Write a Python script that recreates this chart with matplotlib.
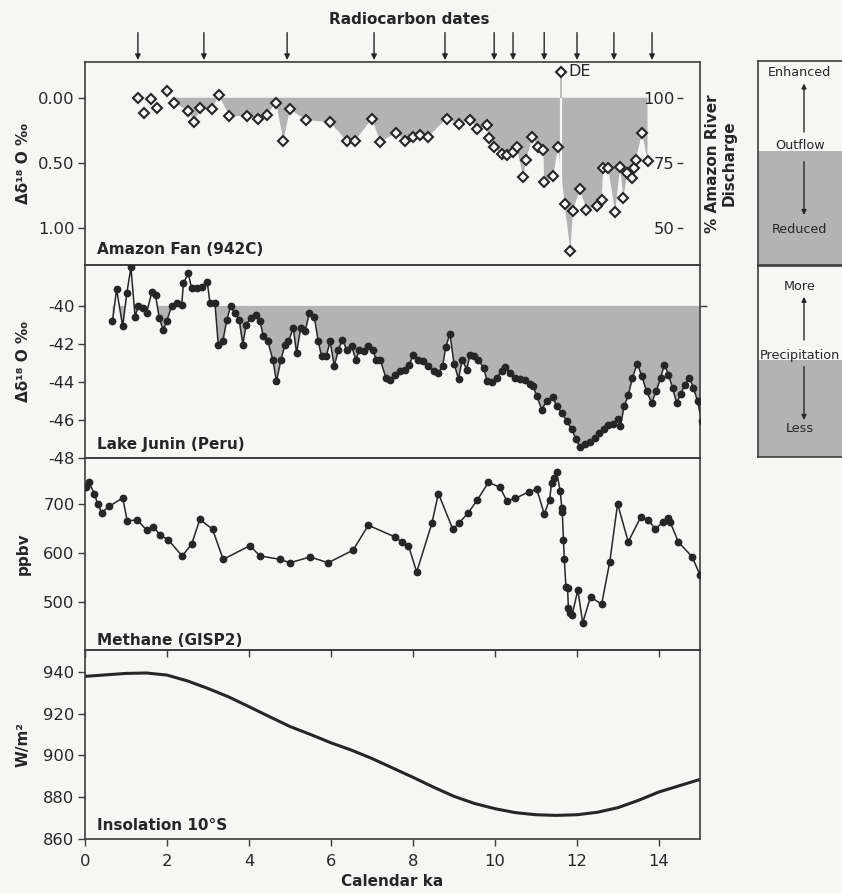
import numpy as np
import matplotlib
matplotlib.use("Agg")
import matplotlib.pyplot as plt

plt.rcParams['font.family'] = ['DejaVu Sans']
plt.rcParams['axes.unicode_minus'] = False

# ---- values ----
radiocarbon_ka = [1.29, 2.90, 4.93, 7.05, 8.78, 9.98, 10.44, 11.20, 12.00, 12.90, 13.83]

amazon_ka = np.array([1.29, 1.45, 1.60, 1.75, 1.99, 2.18, 2.52, 2.67, 2.81, 3.10,
                      3.26, 3.52, 3.96, 4.21, 4.43, 4.66, 4.84, 5.00, 5.39, 5.98,
                      6.38, 6.59, 7.00, 7.20, 7.59, 7.80, 8.00, 8.17, 8.37, 8.82,
                      9.13, 9.39, 9.57, 9.80, 9.86, 9.98, 10.16, 10.30, 10.45, 10.53,
                      10.69, 10.76, 10.91, 11.06, 11.18, 11.20, 11.42, 11.54, 11.61, 11.70,
                      11.84, 11.90, 12.07, 12.23, 12.49, 12.60, 12.64, 12.76, 12.93, 13.05,
                      13.13, 13.23, 13.33, 13.40, 13.43, 13.59, 13.72])
amazon_d18o = np.array([0.00, 0.12, 0.01, 0.08, -0.05, 0.04, 0.10, 0.19, 0.08, 0.09,
                        -0.02, 0.14, 0.14, 0.16, 0.13, 0.04, 0.33, 0.09, 0.17, 0.19,
                        0.33, 0.33, 0.16, 0.34, 0.27, 0.33, 0.30, 0.29, 0.30, 0.16,
                        0.20, 0.17, 0.24, 0.21, 0.31, 0.38, 0.43, 0.44, 0.42, 0.38,
                        0.61, 0.48, 0.30, 0.38, 0.40, 0.65, 0.60, 0.38, -0.20, 0.82,
                        1.18, 0.87, 0.70, 0.86, 0.83, 0.79, 0.54, 0.54, 0.88, 0.53,
                        0.77, 0.58, 0.62, 0.54, 0.48, 0.27, 0.49])
de_ka = 11.61  # the "DE" sample

junin_ka = np.array([0.67, 0.77, 0.92, 1.02, 1.12, 1.22, 1.30, 1.41, 1.50, 1.63,
                     1.72, 1.81, 1.91, 1.99, 2.11, 2.24, 2.36, 2.40, 2.52, 2.60,
                     2.72, 2.85, 2.98, 3.05, 3.17, 3.25, 3.36, 3.46, 3.55, 3.66,
                     3.76, 3.85, 3.93, 4.04, 4.16, 4.27, 4.35, 4.46, 4.58, 4.67,
                     4.78, 4.88, 4.96, 5.08, 5.16, 5.26, 5.37, 5.47, 5.59, 5.69,
                     5.77, 5.88, 5.98, 6.08, 6.18, 6.28, 6.38, 6.50, 6.61, 6.69,
                     6.80, 6.91, 7.02, 7.10, 7.20, 7.34, 7.44, 7.56, 7.68, 7.80,
                     7.91, 8.01, 8.13, 8.25, 8.37, 8.50, 8.62, 8.72, 8.80, 8.90,
                     9.00, 9.11, 9.20, 9.31, 9.39, 9.49, 9.59, 9.72, 9.81, 9.92,
                     10.04, 10.16, 10.24, 10.37, 10.49, 10.61, 10.73, 10.85, 10.93, 11.02,
                     11.14, 11.26, 11.41, 11.50, 11.63, 11.75, 11.87, 11.98, 12.07, 12.20,
                     12.32, 12.44, 12.54, 12.66, 12.76, 12.89, 13.01, 13.06, 13.15, 13.25,
                     13.35, 13.47, 13.58, 13.70, 13.82, 13.93, 14.04, 14.13, 14.23, 14.33,
                     14.43, 14.53, 14.63, 14.74, 14.84, 14.94, 15.04])
junin_d18o = np.array([-40.82, -39.13, -41.08, -39.33, -37.97, -40.56, -40.03, -40.12, -40.38, -39.28,
                       -39.42, -40.65, -41.26, -40.82, -40.03, -39.86, -39.95, -38.81, -38.29, -39.07,
                       -39.07, -38.99, -38.73, -39.86, -39.86, -42.04, -41.87, -40.73, -40.03, -40.38,
                       -40.73, -42.04, -40.99, -40.65, -40.47, -40.82, -41.61, -41.87, -42.83, -43.96,
                       -42.83, -42.04, -41.87, -41.17, -42.48, -41.17, -41.34, -40.38, -40.56, -41.87,
                       -42.66, -42.66, -41.87, -43.18, -42.30, -41.78, -42.30, -42.13, -42.83, -42.30,
                       -42.39, -42.13, -42.30, -42.83, -42.83, -43.79, -43.88, -43.61, -43.44, -43.35,
                       -43.09, -42.57, -42.83, -42.91, -43.18, -43.44, -43.53, -43.18, -42.17, -41.47,
                       -43.04, -43.84, -42.83, -43.35, -42.57, -42.66, -42.83, -43.26, -43.96, -44.01,
                       -43.79, -43.44, -43.21, -43.53, -43.79, -43.84, -43.91, -44.09, -44.23, -44.75,
                       -45.45, -45.01, -44.78, -45.27, -45.62, -46.06, -46.50, -47.02, -47.41, -47.28,
                       -47.16, -46.93, -46.71, -46.50, -46.29, -46.19, -45.94, -46.32, -45.27, -44.71,
                       -43.79, -43.04, -43.70, -44.49, -45.10, -44.49, -43.79, -43.09, -43.61, -44.31,
                       -45.10, -44.66, -44.14, -43.79, -44.31, -45.01, -46.06])

methane_ka = np.array([0.02, 0.10, 0.23, 0.31, 0.41, 0.59, 0.92, 1.03, 1.28, 1.50,
                       1.67, 1.83, 2.03, 2.37, 2.60, 2.80, 3.11, 3.37, 4.02, 4.27,
                       4.76, 5.00, 5.49, 5.93, 6.54, 6.91, 7.56, 7.72, 7.89, 8.09,
                       8.46, 8.62, 8.97, 9.13, 9.35, 9.57, 9.84, 10.12, 10.29, 10.49,
                       10.84, 11.02, 11.20, 11.33, 11.38, 11.44, 11.50, 11.59, 11.63, 11.64,
                       11.67, 11.69, 11.73, 11.77, 11.79, 11.84, 11.88, 12.02, 12.14, 12.33,
                       12.60, 12.80, 12.99, 13.25, 13.55, 13.74, 13.91, 14.10, 14.23, 14.27,
                       14.47, 14.81, 15.00])
methane_ppbv = np.array([735, 745, 721, 700, 683, 696, 713, 666, 668, 647,
                         654, 637, 627, 594, 618, 669, 649, 587, 615, 594,
                         587, 580, 592, 580, 606, 657, 633, 623, 615, 561,
                         661, 722, 649, 662, 683, 709, 745, 735, 707, 712,
                         726, 731, 680, 709, 743, 753, 767, 728, 692, 685,
                         627, 587, 531, 528, 487, 476, 473, 524, 457, 510,
                         495, 582, 701, 623, 673, 668, 649, 664, 671, 664,
                         623, 592, 555])

insol_ka = np.arange(0, 15.5, 0.5)
insol_wm2 = np.array([937.8, 938.5, 939.2, 939.4, 938.4, 935.6, 932.0, 928.0, 923.3, 918.5,
                      913.8, 910.0, 906.0, 902.5, 898.5, 894.0, 889.5, 884.8, 880.4, 877.0,
                      874.5, 872.6, 871.6, 871.3, 871.6, 872.8, 875.0, 878.5, 882.5, 885.5,
                      888.5])

# ---- style ----
BG = '#f6f6f4'
INK = '#262626'
FRAME = '#3c3c3c'
GRAY = '#b3b3b3'
TICK_FS = 11.8
LAB_FS = 11

fig = plt.figure(figsize=(8.42, 8.94), dpi=100, facecolor=BG)

W, H = 842.0, 894.0
left, width = 85 / W, 615 / W
panels = [(62, 265), (265, 458), (458, 650), (650, 839)]
axes = []
for top, bot in panels:
    a = fig.add_axes([left, 1 - bot / H, width, (bot - top) / H])
    a.set_facecolor('none')
    a.set_xlim(0, 15)
    for s in a.spines.values():
        s.set_color(FRAME)
        s.set_linewidth(1.2)
    a.tick_params(direction='out', length=5, width=1, colors=FRAME,
                  labelcolor=INK, labelsize=TICK_FS, pad=2.5)
    a.tick_params(axis='x', bottom=False, labelbottom=False)
    axes.append(a)
ax1, ax2, ax3, ax4 = axes


def panel_label(ax, text, y):
    ax.text(0.02, y, text, transform=ax.transAxes, ha='left', va='center',
            fontsize=LAB_FS, fontweight='bold', color=INK)


# ---- Amazon Fan ----
is_de = np.isclose(amazon_ka, de_ka)
keep = (amazon_ka >= 2.1) & ~is_de
ax1.fill_between(amazon_ka[keep], 0, amazon_d18o[keep], where=amazon_d18o[keep] > 0,
                 interpolate=True, color=GRAY, lw=0, zorder=1)
de_val = amazon_d18o[is_de][0]
after_de = amazon_d18o[np.argmax(is_de) + 1]
ax1.vlines(de_ka, de_val, 0, color=GRAY, lw=1.2, zorder=1.5)
ax1.vlines(de_ka, 0, after_de, color=BG, lw=1.6, zorder=1.5)
ax1.plot(amazon_ka, amazon_d18o, ls='none', marker='D', ms=5.3, mfc=BG, mec=INK,
         mew=1.5, zorder=3)
ax1.annotate('DE', xy=(de_ka, de_val), xytext=(5, 0), textcoords='offset points',
             va='center', ha='left', fontsize=11.5, color=INK)
ax1.set_ylim(1.287, -0.275)
ax1.set_yticks([0, 0.5, 1.0])
ax1.set_yticklabels(['0.00', '0.50', '1.00'])
ax1.set_ylabel('Δδ¹⁸ O ‰', fontsize=LAB_FS, fontweight='bold', color=INK)
panel_label(ax1, 'Amazon Fan (942C)', 0.074)

lo, hi = ax1.get_ylim()
ax1r = ax1.twinx()
ax1r.set_facecolor('none')
ax1r.set_ylim(100 - 50 * lo, 100 - 50 * hi)
ax1r.yaxis.tick_left()
ax1r.spines['left'].set_position(('axes', 0.972))
for s in ax1r.spines.values():
    s.set_color('none')
ax1r.set_yticks([50, 75, 100])
ax1r.tick_params(direction='out', length=4, width=1, colors=FRAME,
                 labelcolor=INK, labelsize=TICK_FS, pad=2)
ax1.text(1.034, 0.5, '% Amazon River\nDischarge', transform=ax1.transAxes,
         rotation=90, ha='center', va='center', multialignment='center',
         fontsize=LAB_FS, fontweight='bold', color=INK, linespacing=1.1)

for t in radiocarbon_ka:
    ax1.annotate('', xy=(t, 1.01), xycoords=('data', 'axes fraction'),
                 xytext=(t, 1.145), textcoords=('data', 'axes fraction'),
                 arrowprops=dict(arrowstyle='-|>', color=INK, lw=1.0,
                                 mutation_scale=8, shrinkA=0, shrinkB=0),
                 annotation_clip=False)
fig.text(409 / W, 1 - 19 / H, 'Radiocarbon dates', ha='center', va='center',
         fontsize=LAB_FS, fontweight='bold', color=INK)

# ---- Lake Junin ----
ax2.fill_between(junin_ka, -40, junin_d18o, where=junin_d18o < -40,
                 interpolate=True, color=GRAY, lw=0, zorder=1)
ax2.plot(junin_ka, junin_d18o, '-o', color=INK, lw=1.1, ms=4.6, zorder=3)
ax2.set_ylim(-48, -37.85)
ax2.set_yticks([-40, -42, -44, -46, -48])
ax2.set_ylabel('Δδ¹⁸ O ‰', fontsize=LAB_FS, fontweight='bold', color=INK)
panel_label(ax2, 'Lake Junin (Peru)', 0.072)
ax2r = ax2.twinx()
ax2r.set_facecolor('none')
ax2r.set_ylim(ax2.get_ylim())
ax2r.set_yticks([-40])
ax2r.set_yticklabels([''])
for s in ax2r.spines.values():
    s.set_color('none')
ax2r.tick_params(direction='out', length=5, width=1, colors=FRAME)

# ---- Methane ----
ax3.plot(methane_ka, methane_ppbv, '-o', color=INK, lw=1.1, ms=4.6, zorder=3)
ax3.set_ylim(401, 795)
ax3.set_yticks([500, 600, 700])
ax3.set_ylabel('ppbv', fontsize=LAB_FS, fontweight='bold', color=INK)
ax3.tick_params(axis='x', bottom=True, length=5, direction='out')
ax3.set_xticks(range(0, 15, 2))
panel_label(ax3, 'Methane (GISP2)', 0.052)

# ---- Insolation ----
ax4.plot(insol_ka, insol_wm2, color=INK, lw=2.2, solid_capstyle='round')
ax4.set_ylim(860, 950.4)
ax4.set_yticks([860, 880, 900, 920, 940])
ax4.set_ylabel('W/m²', fontsize=LAB_FS, fontweight='bold', color=INK)
ax4.tick_params(axis='x', bottom=True, labelbottom=True, pad=5.5)
ax4.set_xticks(range(0, 15, 2))
ax4.set_xlabel('Calendar ka', fontsize=LAB_FS, fontweight='bold', color=INK,
               labelpad=4)
panel_label(ax4, 'Insolation 10°S', 0.074)

for a in axes:
    a.yaxis.set_label_coords(-0.088, 0.5)


# ---- key boxes on the right ----
def key_box(top, bot, split, upper, middle, lower, ys):
    b = fig.add_axes([758 / W, 1 - bot / H, 92 / W, (bot - top) / H])
    b.set_xlim(0, 1)
    b.set_ylim(0, 1)
    b.set_facecolor('none')
    b.set_xticks([])
    b.set_yticks([])
    for s in b.spines.values():
        s.set_color(FRAME)
        s.set_linewidth(1.2)
    b.axhspan(0, split, color=GRAY, lw=0)
    y_up, y_mid, y_low, a_up, a_dn = ys
    cx = 0.455  # keep the words inside the visible part of the box
    b.text(cx, y_up, upper, ha='center', va='center', fontsize=9.2, color=INK)
    b.text(cx, y_mid, middle, ha='center', va='center', fontsize=9.2, color=INK)
    b.text(cx, y_low, lower, ha='center', va='center', fontsize=9.2, color=INK)
    arrow = dict(arrowstyle='-|>', color=INK, lw=1.0, mutation_scale=7,
                 shrinkA=0, shrinkB=0)
    b.annotate('', xy=(0.5, a_up[1]), xytext=(0.5, a_up[0]), arrowprops=arrow)
    b.annotate('', xy=(0.5, a_dn[1]), xytext=(0.5, a_dn[0]), arrowprops=arrow)


key_box(61, 265, 0.56, 'Enhanced', 'Outflow', 'Reduced',
        (0.943, 0.588, 0.175, (0.652, 0.89), (0.506, 0.245)))
key_box(266, 457, 0.51, 'More', 'Precipitation', 'Less',
        (0.892, 0.534, 0.150, (0.613, 0.839), (0.473, 0.194)))

fig.savefig('out.png', dpi=100, facecolor=BG)
